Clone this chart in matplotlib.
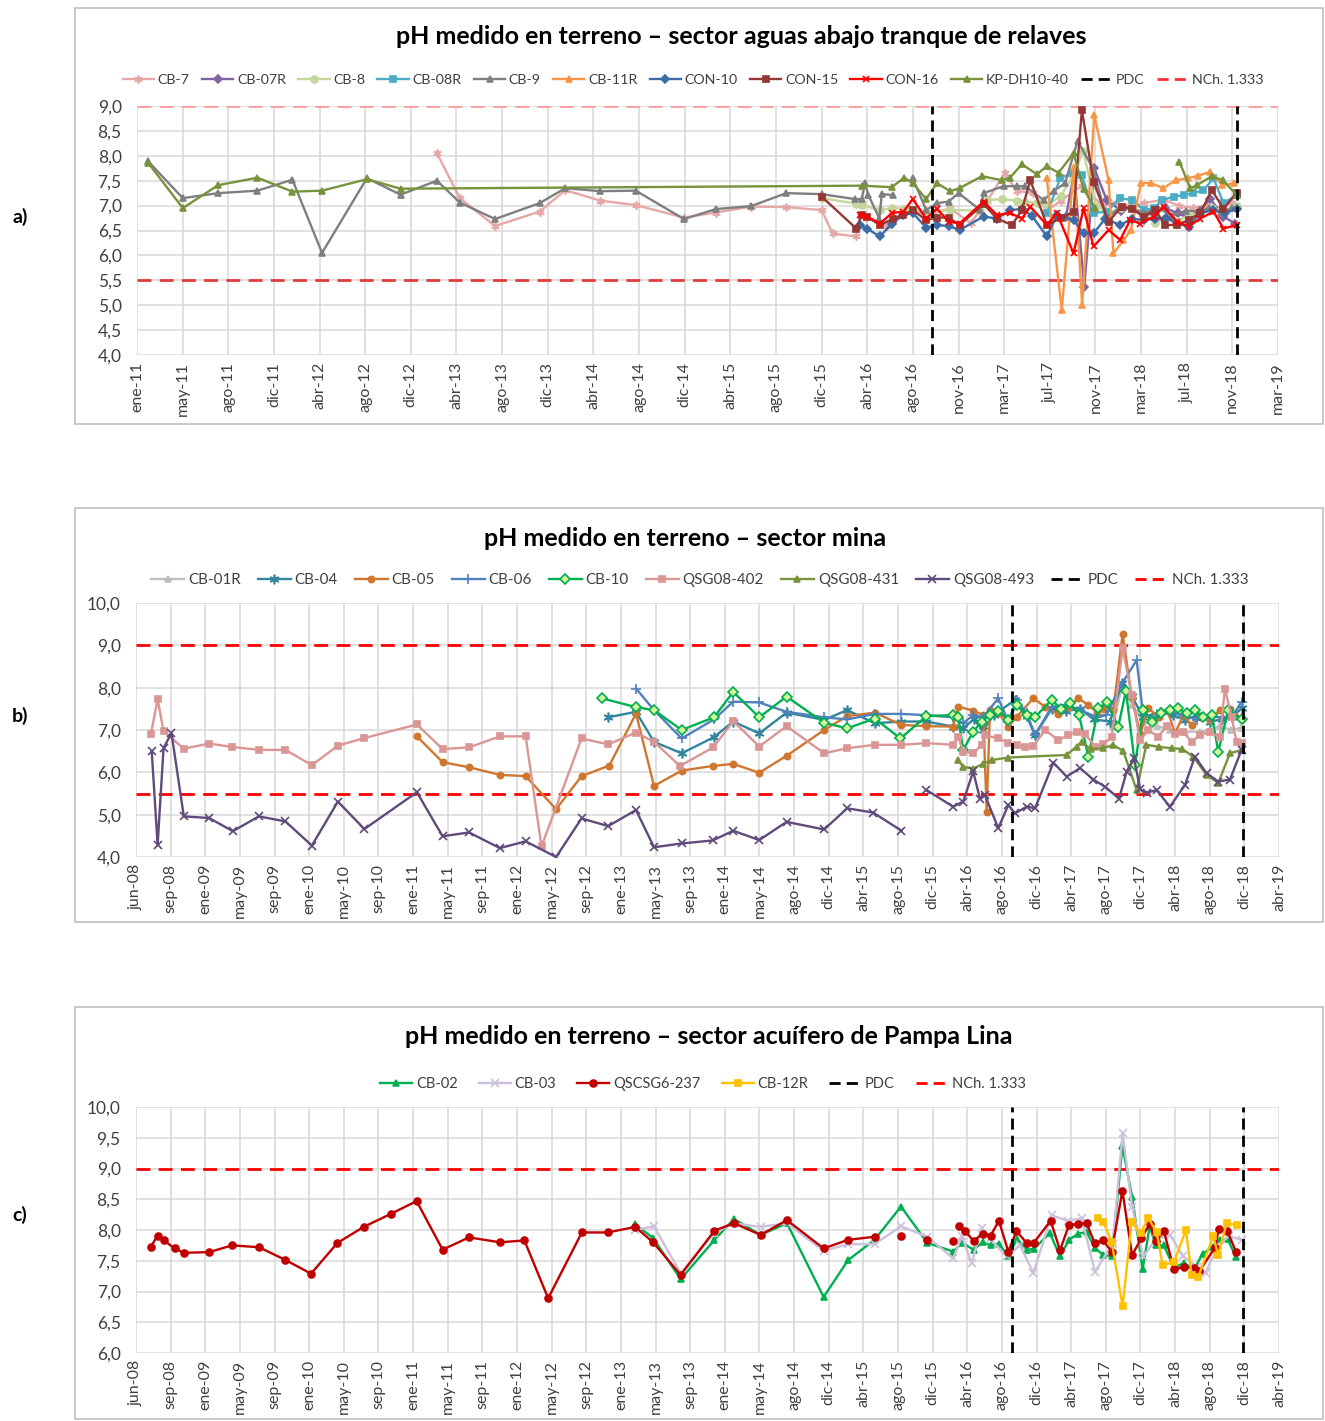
import numpy as np
import matplotlib
matplotlib.use('Agg')
import matplotlib.pyplot as plt
import matplotlib.dates as mdates
from matplotlib.patches import Rectangle
from matplotlib.lines import Line2D
from datetime import datetime

plt.rcParams['font.family'] = ['Lato', 'DejaVu Sans']
nan = np.nan

# ---------------- DATA (x as decimal years, y as pH) ----------------
# Panel a) sector aguas abajo tranque de relaves
CB7_t = [2013.158, 2013.323, 2013.577, 2013.898, 2014.083, 2014.334, 2014.590, 2014.937, 2015.167, 2015.422,
         2015.674, 2015.929, 2016.008, 2016.178, nan, 2016.25, 2016.40, 2016.55, 2016.70, 2016.85, 2017.00,
         2017.12, 2017.245, 2017.33, 2017.45, 2017.55, 2017.65, 2017.80, 2017.95, 2018.05, 2018.15, 2018.25,
         2018.39, 2018.50, 2018.60, 2018.70, 2018.80, 2018.88]
CB7_v = [8.05, 7.15, 6.59, 6.88, 7.31, 7.10, 7.01, 6.76, 6.86, 6.98,
         6.97, 6.91, 6.44, 6.38, nan, 6.75, 6.60, 6.95, 6.80, 6.95, 6.65,
         7.10, 7.65, 7.30, 7.25, 6.90, 7.10, 7.40, 7.00, 7.05, 7.00, 7.05,
         7.12, 7.00, 6.95, 7.00, 6.95, 7.05]
CB07R_t = [2017.62, 2017.686, 2017.745, 2017.818, 2017.89, 2017.98, 2018.08, 2018.16, 2018.25, 2018.33, 2018.40,
           2018.49, 2018.57, 2018.65, 2018.725, 2018.82, 2018.905]
CB07R_v = [6.80, 6.78, 7.65, 5.37, 7.75, 7.11, 6.90, 6.95, 6.80, 6.85, 6.95,
           6.85, 6.75, 6.90, 7.14, 6.78, 6.64]
CB8_t = [2015.929, 2016.178, 2016.217, 2016.349, 2016.433, 2016.522, 2016.680, 2016.853, 2017.069, 2017.117,
         2017.225, 2017.333, 2017.393, 2017.48, 2017.55, 2017.65, 2017.74, 2017.81, 2017.90, 2017.99, 2018.08,
         2018.16, 2018.25, 2018.33, 2018.40, 2018.49, 2018.57, 2018.65, 2018.74, 2018.82, 2018.92]
CB8_v = [7.15, 7.04, 7.01, 6.91, 6.95, 6.94, 6.88, 6.91, 6.90, 7.11,
         7.13, 7.10, 7.08, 7.05, 7.00, 7.20, 7.60, 8.10, 7.00, 6.85, 6.95,
         6.95, 6.85, 6.65, 6.75, 6.70, 6.80, 6.85, 6.95, 6.90, 7.00]
CB08R_t = [2017.55, 2017.645, 2017.729, 2017.801, 2017.885, 2017.981, 2018.077, 2018.161, 2018.245, 2018.32,
           2018.377, 2018.461, 2018.533, 2018.605, 2018.677, 2018.749, 2018.821, 2018.917]
CB08R_v = [6.85, 7.55, 7.65, 7.61, 6.85, 6.88, 7.15, 7.11, 6.91, 6.95,
           7.11, 7.18, 7.21, 7.25, 7.31, 7.55, 7.05, 7.21]
CB9_t = [2011.080, 2011.330, 2011.584, 2011.868, 2012.119, 2012.332, 2012.654, 2012.896, 2013.158, 2013.323,
         2013.577, 2013.898, 2014.083, 2014.334, 2014.590, 2014.937, 2015.167, 2015.422, 2015.674, 2015.929,
         2016.169, 2016.217, 2016.241, 2016.265, 2016.344, 2016.361, 2016.445, nan, 2016.584, 2016.680,
         2016.757, 2016.841, 2016.913, 2017.069, 2017.093, 2017.237, 2017.333, 2017.393, 2017.525, 2017.60,
         2017.68, 2017.77, 2017.88, 2017.98, 2018.08, 2018.16, 2018.25, 2018.35, 2018.45, 2018.55, 2018.65,
         2018.72, 2018.80, 2018.88]
CB9_v = [7.89, 7.15, 7.25, 7.30, 7.52, 6.05, 7.55, 7.22, 7.50, 7.06,
         6.73, 7.05, 7.35, 7.29, 7.30, 6.73, 6.93, 6.99, 7.25, 7.23,
         7.13, 7.13, 7.45, 7.21, 6.74, 7.23, 7.21, nan, 7.55, 6.91,
         7.05, 7.08, 7.25, 6.91, 7.25, 7.39, 7.39, 7.39, 7.11, 7.30,
         7.45, 8.30, 7.75, 6.75, 6.98, 6.95, 6.85, 6.95, 6.80, 6.90, 6.88,
         6.95, 6.85, 6.95]
CB11R_t = [2017.548, 2017.656, 2017.744, 2017.803, 2017.890, 2017.993, 2018.028, 2018.10, 2018.154, 2018.227,
           2018.30, 2018.388, 2018.476, 2018.564, 2018.64, 2018.725, 2018.813, 2018.900]
CB11R_v = [7.55, 4.90, 7.78, 5.00, 8.82, 7.51, 6.04, 6.30, 6.51, 7.45,
           7.45, 7.35, 7.51, 7.55, 7.60, 7.68, 7.41, 7.45]
CON10_t = [2016.205, 2016.253, 2016.349, 2016.433, 2016.517, 2016.584, 2016.680, 2016.757, 2016.841, 2016.920,
           2017.093, 2017.189, 2017.285, 2017.369, 2017.44, 2017.549, 2017.621, 2017.741, 2017.813, 2017.885,
           2017.969, 2018.077, 2018.161, 2018.245, 2018.329, 2018.41, 2018.485, 2018.569, 2018.653, 2018.749,
           2018.833, 2018.917]
CON10_v = [6.61, 6.54, 6.38, 6.64, 6.81, 6.85, 6.56, 6.61, 6.59, 6.51,
           6.78, 6.74, 6.91, 6.93, 6.80, 6.38, 6.81, 6.71, 6.44, 6.44,
           6.74, 6.61, 6.74, 6.71, 6.74, 6.75, 6.64, 6.58, 6.85, 6.91,
           6.85, 6.94]
CON15_t = [2015.929, 2016.178, 2016.217, 2016.253, 2016.349, 2016.445, 2016.517, 2016.584, 2016.680, 2016.757,
           2016.841, 2016.920, 2017.093, 2017.189, 2017.297, 2017.369, 2017.429, 2017.549, 2017.65, 2017.741,
           2017.801, 2017.885, 2017.993, 2018.089, 2018.161, 2018.245, 2018.329, 2018.401, 2018.485, 2018.569,
           2018.653, 2018.737, 2018.821, 2018.917]
CON15_v = [7.18, 6.54, 6.81, 6.78, 6.61, 6.74, 6.81, 6.91, 6.71, 6.76,
           6.76, 6.61, 7.03, 6.74, 6.61, 6.91, 7.51, 6.61, 6.75, 6.88,
           8.92, 7.48, 6.68, 6.98, 6.94, 6.78, 6.91, 6.61, 6.61, 6.71,
           6.85, 7.31, 6.94, 7.26]
CON16_t = [2016.205, 2016.253, 2016.349, 2016.433, 2016.517, 2016.584, 2016.680, 2016.757, 2016.841, 2016.920,
           2017.093, 2017.189, 2017.285, 2017.369, 2017.429, 2017.549, 2017.621, 2017.741, 2017.813, 2017.885,
           2017.993, 2018.077, 2018.149, 2018.221, 2018.317, 2018.389, 2018.485, 2018.569, 2018.653, 2018.749,
           2018.821, 2018.917]
CON16_v = [6.81, 6.78, 6.64, 6.85, 6.88, 7.13, 6.74, 6.94, 6.68, 6.64,
           7.08, 6.81, 6.85, 6.74, 6.98, 6.61, 6.85, 6.04, 6.95, 6.18,
           6.51, 6.31, 6.71, 6.64, 6.78, 6.98, 6.68, 6.58, 6.74, 6.88,
           6.54, 6.61]
KP_t = [2011.080, 2011.330, 2011.584, 2011.868, 2012.119, 2012.332, 2012.654, 2012.896, 2016.217, 2016.433,
        2016.522, 2016.584, 2016.680, 2016.757, 2016.853, 2016.920, 2017.081, 2017.225, 2017.280, 2017.369,
        2017.477, 2017.549, 2017.633, 2017.741, 2017.813, 2017.897, nan, 2018.504, 2018.581, 2018.629,
        2018.737, 2018.816, 2018.917]
KP_v = [7.86, 6.95, 7.41, 7.56, 7.28, 7.30, 7.53, 7.34, 7.40, 7.37,
        7.56, 7.45, 7.13, 7.45, 7.29, 7.35, 7.59, 7.51, 7.55, 7.83,
        7.63, 7.79, 7.66, 8.05, 7.33, 6.95, nan, 7.88, 7.35, 7.41,
        7.59, 7.51, 7.21]

# Panel b) sector mina
CB01R_t = [2017.68, 2017.773, 2017.86, 2017.97, 2018.10, 2018.22, 2018.365, 2018.507, 2018.60, 2018.70, 2018.80, 2018.90]
CB01R_v = [7.10, 8.10, 7.60, 7.20, 7.10, 7.00, 6.96, 6.96, 7.00, 7.10, 7.00, 7.05]
CB04_t = [2012.894, 2013.157, 2013.328, 2013.590, 2013.897, 2014.080, 2014.327, 2014.586, 2014.943, 2015.161,
          2015.424, 2015.677, 2015.914, 2016.167, 2016.262, 2016.36, 2016.452, 2016.55, 2016.752, 2016.863,
          2016.942, 2017.10, 2017.24, 2017.37, 2017.50, 2017.653, 2017.764, 2017.86, 2017.97, 2018.127,
          2018.25, 2018.365, 2018.48, 2018.602, 2018.72, 2018.81, 2018.902]
CB04_v = [7.30, 7.43, 6.72, 6.45, 6.83, 7.20, 6.92, 7.41, 7.24, 7.47,
          7.16, 7.20, 7.20, 7.08, 7.04, 7.25, 7.00, 7.35, 7.71, 7.32,
          6.88, 7.50, 7.45, 7.50, 7.25, 7.20, 8.10, 7.80, 7.30, 7.43,
          7.35, 7.24, 7.35, 7.20, 7.25, 7.30, 7.51]
CB05_t = [2011.080, 2011.324, 2011.575, 2011.868, 2012.112, 2012.400, 2012.641, 2012.904, 2013.157, 2013.328,
          2013.590, 2013.884, 2014.080, 2014.327, 2014.586, 2014.943, 2015.161, 2015.424, 2015.677, 2015.914,
          2016.167, 2016.215, 2016.357, 2016.452, 2016.484, 2016.515, 2016.60, 2016.689, 2016.768, 2016.926,
          2017.037, 2017.163, 2017.26, 2017.353, 2017.44, 2017.527, 2017.60, 2017.685, 2017.773, 2017.859,
          2017.94, 2018.017, 2018.12, 2018.20, 2018.270, 2018.35, 2018.428, 2018.51, 2018.602, 2018.697,
          2018.792, 2018.902]
CB05_v = [6.85, 6.24, 6.12, 5.94, 5.91, 5.13, 5.91, 6.16, 7.39, 5.68,
          6.04, 6.15, 6.20, 5.99, 6.39, 7.00, 7.33, 7.41, 7.12, 7.09,
          7.08, 7.55, 7.46, 7.35, 5.07, 7.47, 7.40, 7.08, 7.31, 7.75,
          7.55, 7.38, 7.55, 7.75, 7.60, 7.43, 7.50, 7.47, 9.27, 7.79,
          6.90, 7.51, 7.30, 7.45, 6.92, 7.35, 7.12, 7.30, 7.24, 7.47,
          7.49, 7.27]
CB06_t = [2013.157, 2013.328, 2013.590, 2013.897, 2014.080, 2014.327, 2014.586, 2014.943, 2015.161, 2015.424,
          2015.677, 2015.914, 2016.167, 2016.262, 2016.357, 2016.45, 2016.594, 2016.689, 2016.768, 2016.863,
          2016.942, 2017.100, 2017.242, 2017.369, 2017.527, 2017.62, 2017.748, 2017.906, 2017.969, 2018.096,
          2018.222, 2018.35, 2018.475, 2018.60, 2018.728, 2018.81, 2018.902]
CB06_v = [7.98, 7.47, 6.80, 7.25, 7.67, 7.65, 7.43, 7.30, 7.25, 7.38,
          7.38, 7.35, 7.30, 7.16, 7.35, 7.30, 7.75, 7.20, 7.71, 7.40,
          6.88, 7.55, 7.59, 7.47, 7.31, 7.35, 8.02, 8.65, 7.35, 7.31,
          7.43, 7.35, 7.24, 7.30, 7.31, 7.30, 7.67]
CB10_t = [2012.831, 2013.157, 2013.328, 2013.590, 2013.897, 2014.080, 2014.327, 2014.586, 2014.943, 2015.161,
          2015.424, 2015.667, 2015.914, 2016.167, 2016.215, 2016.262, 2016.357, 2016.436, 2016.52, 2016.594,
          2016.689, 2016.768, 2016.863, 2016.94, 2017.100, 2017.19, 2017.274, 2017.36, 2017.448, 2017.543,
          2017.622, 2017.732, 2017.805, 2017.890, 2017.969, 2018.05, 2018.14, 2018.222, 2018.301, 2018.38,
          2018.459, 2018.54, 2018.62, 2018.681, 2018.776, 2018.902]
CB10_v = [7.75, 7.54, 7.47, 7.00, 7.30, 7.90, 7.30, 7.79, 7.17, 7.04,
          7.27, 6.80, 7.33, 7.35, 7.30, 6.53, 6.96, 7.20, 7.35, 7.46,
          7.24, 7.59, 7.35, 7.30, 7.71, 7.50, 7.63, 7.35, 6.37, 7.51,
          7.65, 7.08, 7.93, 6.17, 7.47, 7.20, 7.40, 7.47, 7.51, 7.40,
          7.47, 7.30, 7.35, 6.49, 7.47, 7.25]
Q402_t = [2008.557, 2008.620, 2008.676, 2008.868, 2009.108, 2009.325, 2009.580, 2009.832, 2010.083, 2010.330,
          2010.581, 2011.080, 2011.324, 2011.575, 2011.868, 2012.112, 2012.262, 2012.641, 2012.894, 2013.157,
          2013.328, 2013.574, 2013.890, 2014.080, 2014.327, 2014.586, 2014.943, 2015.161, 2015.424, 2015.677,
          2015.914, 2016.167, 2016.215, 2016.262, 2016.357, 2016.436, 2016.468, 2016.594, 2016.689, 2016.768,
          2016.847, 2016.926, 2017.037, 2017.163, 2017.258, 2017.337, 2017.42, 2017.511, 2017.590, 2017.669,
          2017.773, 2017.859, 2017.938, 2018.017, 2018.112, 2018.191, 2018.27, 2018.35, 2018.428, 2018.507,
          2018.60, 2018.697, 2018.744, 2018.807, 2018.855, 2018.902]
Q402_v = [6.91, 7.73, 6.97, 6.56, 6.68, 6.60, 6.53, 6.53, 6.17, 6.63,
          6.81, 7.13, 6.55, 6.59, 6.85, 6.85, 4.25, 6.80, 6.66, 6.94,
          6.72, 6.15, 6.59, 7.21, 6.61, 7.09, 6.45, 6.57, 6.65, 6.65,
          6.69, 6.65, 6.84, 6.49, 6.45, 6.65, 6.88, 6.80, 6.70, 6.65,
          6.61, 6.62, 7.00, 6.76, 6.88, 6.96, 6.90, 6.61, 6.67, 6.83,
          8.93, 7.83, 6.76, 7.00, 6.84, 7.09, 6.90, 6.95, 6.72, 6.88,
          6.95, 6.84, 7.98, 7.31, 6.72, 6.69]
Q431_t = [2016.215, 2016.262, 2016.357, 2016.45, 2016.531, 2016.689, 2017.242, 2017.337, 2017.385, 2017.47,
          2017.590, 2017.682, 2017.78, 2017.906, 2017.998, 2018.12, 2018.238, 2018.34, 2018.444, 2018.570,
          2018.681, 2018.792, 2018.902]
Q431_v = [6.29, 6.13, 6.09, 6.20, 6.29, 6.35, 6.41, 6.61, 6.72, 6.55,
          6.57, 6.65, 6.50, 5.58, 6.65, 6.60, 6.57, 6.55, 6.37, 5.94,
          5.75, 6.45, 6.53]
Q493_t = [2008.564, 2008.620, 2008.676, 2008.751, 2008.868, 2009.108, 2009.333, 2009.580, 2009.832, 2010.083,
          2010.330, 2010.581, 2011.080, 2011.324, 2011.575, 2011.868, 2012.112, 2012.400, 2012.641, 2012.894,
          2013.157, 2013.328, 2013.590, 2013.884, 2014.080, 2014.327, 2014.586, 2014.943, 2015.161, 2015.408,
          2015.677, nan, 2015.914, 2016.167, 2016.262, 2016.357, 2016.420, 2016.468, 2016.594, 2016.689,
          2016.752, 2016.863, 2016.942, 2017.116, 2017.242, 2017.369, 2017.495, 2017.606, 2017.739, 2017.811,
          2017.881, 2017.94, 2018.001, 2018.096, 2018.222, 2018.365, 2018.459, 2018.570, 2018.681, 2018.792,
          2018.902]
Q493_v = [6.50, 4.29, 6.57, 6.93, 4.96, 4.92, 4.61, 4.96, 4.84, 4.27,
          5.31, 4.66, 5.53, 4.49, 4.58, 4.21, 4.37, 4.00, 4.91, 4.73,
          5.11, 4.23, 4.32, 4.39, 4.62, 4.40, 4.83, 4.65, 5.15, 5.05,
          4.62, nan, 5.58, 5.19, 5.31, 6.02, 5.38, 5.46, 4.68, 5.23,
          5.03, 5.19, 5.15, 6.23, 5.90, 6.10, 5.83, 5.66, 5.38, 6.01,
          6.33, 5.60, 5.52, 5.58, 5.19, 5.70, 6.37, 5.98, 5.78, 5.83,
          6.53]

# Panel c) sector acuifero de Pampa Lina
CB02_t = [2013.150, 2013.319, 2013.581, 2013.902, 2014.087, 2014.339, 2014.590, 2014.938, 2015.170, 2015.421,
          2015.672, 2015.923, 2016.167, 2016.252, 2016.360, 2016.445, 2016.522, 2016.60, 2016.689, 2016.77,
          2016.863, 2016.929, 2017.083, 2017.179, 2017.264, 2017.353, 2017.431, 2017.508, 2017.585, 2017.670,
          2017.771, 2017.863, 2017.963, 2018.030, 2018.088, 2018.165, 2018.261, 2018.358, 2018.448, 2018.532,
          2018.629, 2018.699, 2018.77, 2018.849]
CB02_v = [8.09, 7.87, 7.20, 7.84, 8.18, 7.92, 8.11, 6.91, 7.51, 7.84,
          8.38, 7.79, 7.65, 7.79, 7.68, 7.80, 7.75, 7.78, 7.57, 7.85,
          7.68, 7.69, 7.95, 7.57, 7.84, 7.94, 7.97, 7.71, 7.60, 7.57,
          9.36, 8.54, 7.36, 8.06, 7.75, 7.75, 7.38, 7.47, 7.35, 7.61,
          7.73, 7.83, 7.85, 7.56]
CB03_t = [2013.150, 2013.326, 2013.581, 2013.902, 2014.087, 2014.339, 2014.590, 2014.938, 2015.170, 2015.421,
          2015.672, 2015.923, 2016.167, 2016.25, 2016.341, 2016.436, 2016.52, 2016.673, 2016.80, 2016.926,
          2017.100, 2017.25, 2017.385, 2017.511, 2017.679, 2017.773, 2017.863, 2017.969, 2018.09, 2018.222,
          2018.349, 2018.475, 2018.56, 2018.68, 2018.78, 2018.902]
CB03_v = [8.00, 8.06, 7.30, 7.95, 8.11, 8.05, 8.11, 7.66, 7.77, 7.77,
          8.06, 7.89, 7.54, 7.90, 7.46, 8.03, 7.85, 7.57, 7.75, 7.30,
          8.24, 8.15, 8.19, 7.32, 7.78, 9.57, 8.38, 7.57, 7.85, 7.92,
          7.57, 7.40, 7.30, 7.75, 7.90, 7.84]
Q237_t = [2008.557, 2008.620, 2008.680, 2008.781, 2008.868, 2009.108, 2009.325, 2009.580, 2009.824, 2010.075,
          2010.326, 2010.574, 2010.83, 2011.077, 2011.324, 2011.575, 2011.868, 2012.100, 2012.325, 2012.644,
          2012.888, 2013.150, 2013.319, 2013.581, 2013.902, 2014.087, 2014.339, 2014.590, 2014.938, 2015.170,
          2015.421, nan, 2015.672, nan, 2015.923, nan, 2016.167, nan, 2016.225, 2016.279,
          2016.360, 2016.445, 2016.522, 2016.600, 2016.689, 2016.766, 2016.863, 2016.929, 2017.09, 2017.179,
          2017.264, 2017.353, 2017.431, 2017.508, 2017.585, 2017.670, 2017.771, 2017.863, 2017.952, 2018.030,
          2018.088, 2018.165, 2018.261, 2018.358, 2018.448, 2018.501, 2018.648, 2018.686, 2018.764, 2018.849]
Q237_v = [7.73, 7.91, 7.83, 7.70, 7.63, 7.64, 7.75, 7.72, 7.52, 7.29,
          7.79, 8.05, 8.26, 8.47, 7.68, 7.88, 7.80, 7.83, 6.89, 7.96,
          7.96, 8.05, 7.80, 7.27, 7.99, 8.11, 7.92, 8.16, 7.70, 7.84,
          7.89, nan, 7.91, nan, 7.83, nan, 7.82, nan, 8.06, 7.99,
          7.82, 7.94, 7.91, 8.15, 7.65, 7.98, 7.79, 7.79, 8.15, 7.67,
          8.08, 8.10, 8.11, 7.79, 7.83, 7.65, 8.64, 7.59, 7.87, 8.10,
          7.82, 7.98, 7.36, 7.40, 7.38, 7.33, 7.71, 8.01, 7.99, 7.65]
CB12R_t = [2017.543, 2017.590, 2017.669, 2017.773, 2017.859, 2017.944, 2018.017, 2018.096, 2018.153, 2018.260,
           2018.374, 2018.428, 2018.491, 2018.633, 2018.681, 2018.760, 2018.855]
CB12R_v = [8.19, 8.13, 7.81, 6.76, 8.13, 7.95, 8.19, 7.97, 7.43, 7.48,
           8.00, 7.27, 7.24, 7.90, 7.59, 8.11, 8.08]

PDC_dates = [2016.72, 2018.915]
NCH_limits = [5.5, 9.0]

# ---------------- helpers ----------------
MESES = ['ene', 'feb', 'mar', 'abr', 'may', 'jun', 'jul', 'ago', 'sep', 'oct', 'nov', 'dic']
W, H = 1325, 1421


def yr2num(arr):
    out = []
    for y in arr:
        if y is None or np.isnan(y):
            out.append(np.nan)
        else:
            yi = int(y)
            d0 = mdates.date2num(datetime(yi, 1, 1))
            d1 = mdates.date2num(datetime(yi + 1, 1, 1))
            out.append(d0 + (y - yi) * (d1 - d0))
    return np.array(out)


fig = plt.figure(figsize=(W / 100, H / 100), dpi=100)


def px_axes(left, top, right, bottom):
    return fig.add_axes([left / W, 1 - bottom / H, (right - left) / W, (bottom - top) / H])


def frame(x0, y0, x1, y1):
    fig.patches.append(Rectangle((x0 / W, 1 - y1 / H), (x1 - x0) / W, (y1 - y0) / H,
                                 transform=fig.transFigure, fill=False, ec='#BFBFBF', lw=1.2))


def setup(ax, start, nticks, ymin, ymax, ystep):
    t0 = mdates.date2num(start)
    ticks = [t0 + 120 * i for i in range(nticks)]
    labels = []
    for t in ticks:
        d = mdates.num2date(t)
        labels.append(f"{MESES[d.month - 1]}-{d.year % 100:02d}")
    ax.set_xticks(ticks)
    ax.set_xticklabels(labels, rotation=90, fontsize=11.5, color='#404040')
    ax.set_xlim(ticks[0], ticks[-1])
    yt = np.arange(ymin, ymax + 1e-9, ystep)
    ax.set_yticks(yt)
    ax.set_yticklabels([f"{v:.1f}".replace('.', ',') for v in yt], fontsize=12.5, color='#404040')
    ax.set_ylim(ymin, ymax)
    ax.grid(True, color='#D9D9D9', lw=1.1)
    ax.set_axisbelow(True)
    for s in ax.spines.values():
        s.set_visible(False)
    ax.tick_params(axis='y', length=0, pad=11)
    ax.tick_params(axis='x', length=0, pad=5)


def refs(ax, upper_col, lower_col):
    ax.axhline(NCH_limits[1], color=upper_col, lw=2, dashes=(5, 3), zorder=1.5)
    ax.axhline(NCH_limits[0], color=lower_col, lw=2, dashes=(5, 3), zorder=1.5)
    for p in PDC_dates:
        ax.axvline(yr2num([p])[0], color='black', lw=2, dashes=(4, 2.2), zorder=6)


def draw(ax, series):
    handles = []
    for name, t, v, col, mk, ms, mfc in series:
        ax.plot(yr2num(t), v, color=col, lw=1.7, marker=mk, ms=ms, mfc=mfc, mec=col, mew=1.2)
        handles.append(Line2D([], [], color=col, lw=1.7, marker=mk, ms=ms, mfc=mfc, mec=col, mew=1.2, label=name))
    return handles


def ref_handles(red):
    return [Line2D([], [], color='black', lw=2, dashes=(4, 2.2), label='PDC'),
            Line2D([], [], color=red, lw=2, dashes=(4, 2.2), label='NCh. 1.333')]


ASTER = (6, 2, 0)
TITLE_FS = 18

# ---------------- Panel a ----------------
frame(75, 8, 1323, 424)
axa = px_axes(137, 106, 1278, 355)
setup(axa, datetime(2011, 1, 1), 26, 4.0, 9.0, 0.5)
refs(axa, '#FF9C9C', '#E03C3C')
series_a = [
    ('CB-7', CB7_t, CB7_v, '#E6A8A6', ASTER, 6, '#E6A8A6'),
    ('CB-07R', CB07R_t, CB07R_v, '#8064A2', 'D', 4, '#8064A2'),
    ('CB-8', CB8_t, CB8_v, '#C3D69B', 'o', 5, '#C3D69B'),
    ('CB-08R', CB08R_t, CB08R_v, '#4BACC6', 's', 4.5, '#4BACC6'),
    ('CB-9', CB9_t, CB9_v, '#7F7F7F', '^', 5, '#7F7F7F'),
    ('CB-11R', CB11R_t, CB11R_v, '#F79646', '^', 5, '#F79646'),
    ('CON-10', CON10_t, CON10_v, '#3D6CA6', 'D', 4.5, '#3D6CA6'),
    ('CON-15', CON15_t, CON15_v, '#953735', 's', 4.5, '#953735'),
    ('CON-16', CON16_t, CON16_v, '#FF0000', 'x', 5, '#FF0000'),
    ('KP-DH10-40', KP_t, KP_v, '#77933C', '^', 5, '#77933C'),
]
ha = draw(axa, series_a) + ref_handles('#FF3030')
fig.legend(handles=ha, loc='center', bbox_to_anchor=(693 / W, 1 - 80 / H), ncol=len(ha), frameon=False,
           fontsize=10.3, handlelength=2.2, handletextpad=0.25, columnspacing=0.85, labelcolor='#404040')
fig.text(741 / W, 1 - 37 / H, 'pH medido en terreno \u2013 sector aguas abajo tranque de relaves',
         ha='center', va='center', fontsize=TITLE_FS, fontweight='bold')
fig.text(20 / W, 1 - 217 / H, 'a)', ha='center', va='center', fontsize=14, fontweight='bold')

# ---------------- Panel b ----------------
frame(75, 508, 1323, 922)
axb = px_axes(136, 603, 1279, 857)
setup(axb, datetime(2008, 6, 1), 34, 4.0, 10.0, 1.0)
refs(axb, '#FF0000', '#FF0000')
series_b = [
    ('CB-01R', CB01R_t, CB01R_v, '#BFBFBF', '^', 5, '#BFBFBF'),
    ('CB-04', CB04_t, CB04_v, '#31859C', ASTER, 7, '#31859C'),
    ('CB-05', CB05_t, CB05_v, '#D0772F', 'o', 4.5, '#D0772F'),
    ('CB-06', CB06_t, CB06_v, '#4F81BD', '+', 7, '#4F81BD'),
    ('CB-10', CB10_t, CB10_v, '#00B050', 'D', 5, '#D4F59A'),
    ('QSG08-402', Q402_t, Q402_v, '#D99694', 's', 4.5, '#D99694'),
    ('QSG08-431', Q431_t, Q431_v, '#77933C', '^', 4.5, '#77933C'),
    ('QSG08-493', Q493_t, Q493_v, '#604A7B', 'x', 6, '#604A7B'),
]
hb = draw(axb, series_b) + ref_handles('#FF0000')
fig.legend(handles=hb, loc='center', bbox_to_anchor=(700 / W, 1 - 580 / H), ncol=len(hb), frameon=False,
           fontsize=10.9, handlelength=2.2, handletextpad=0.25, columnspacing=1.1, labelcolor='#404040')
fig.text(685 / W, 1 - 538 / H, 'pH medido en terreno \u2013 sector mina',
         ha='center', va='center', fontsize=TITLE_FS, fontweight='bold')
fig.text(20 / W, 1 - 716 / H, 'b)', ha='center', va='center', fontsize=14, fontweight='bold')

# ---------------- Panel c ----------------
frame(75, 1007, 1323, 1419)
axc = px_axes(136, 1107, 1279, 1353)
setup(axc, datetime(2008, 6, 1), 34, 6.0, 10.0, 0.5)
refs(axc, '#FF0000', '#FF0000')
series_c = [
    ('CB-02', CB02_t, CB02_v, '#00B050', '^', 5, '#00B050'),
    ('CB-03', CB03_t, CB03_v, '#CCC0DA', 'x', 6, '#CCC0DA'),
    ('QSCSG6-237', Q237_t, Q237_v, '#C00000', 'o', 5, '#C00000'),
    ('CB-12R', CB12R_t, CB12R_v, '#FFC000', 's', 5, '#FFC000'),
]
hc = draw(axc, series_c) + ref_handles('#FF0000')
fig.legend(handles=hc, loc='center', bbox_to_anchor=(703 / W, 1 - 1084 / H), ncol=len(hc), frameon=False,
           fontsize=10.5, handlelength=2.2, handletextpad=0.25, columnspacing=1.45, labelcolor='#404040')
fig.text(709 / W, 1 - 1037 / H, 'pH medido en terreno \u2013 sector acu\u00edfero de Pampa Lina',
         ha='center', va='center', fontsize=TITLE_FS, fontweight='bold')
fig.text(20 / W, 1 - 1215 / H, 'c)', ha='center', va='center', fontsize=14, fontweight='bold')

fig.savefig('out.png', dpi=100)
